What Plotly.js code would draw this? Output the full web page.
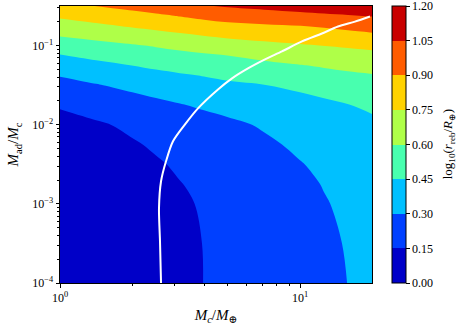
<!DOCTYPE html>
<html>
<head>
<meta charset="utf-8">
<script src="https://cdn.plot.ly/plotly-3.0.1.min.js"></script>
<style>
  body { margin: 0; background: #fff; }
  #chart { width: 457px; height: 325px; }
</style>
</head>
<body>
<div id="chart"></div>
<script>
// core mass M_c / M_earth (grid columns)
const coreMass = [1, 1.413, 2, 2.512, 3.162, 3.981, 5.012, 7.079, 10, 12.59, 15.85, 19.95];
// atmosphere fraction M_ad / M_c (grid rows)
const atmFrac = [1e-4, 3.162e-4, 1e-3, 1.778e-3, 3.162e-3, 5.623e-3, 1e-2, 1.778e-2, 3.162e-2,
                 4.217e-2, 5.623e-2, 7.499e-2, 0.1, 0.1334, 0.1778, 0.2371, 0.3162];

// log10(r_reb / R_earth), one row per atmFrac value
const logRadius = [
  [0.005, 0.038, 0.075, 0.100, 0.125, 0.151, 0.175, 0.213, 0.250, 0.275, 0.301, 0.326],
  [0.008, 0.041, 0.078, 0.103, 0.128, 0.152, 0.179, 0.218, 0.255, 0.279, 0.307, 0.332],
  [0.016, 0.049, 0.086, 0.111, 0.136, 0.159, 0.188, 0.228, 0.268, 0.293, 0.320, 0.345],
  [0.027, 0.060, 0.097, 0.122, 0.147, 0.170, 0.199, 0.240, 0.275, 0.305, 0.333, 0.358],
  [0.044, 0.077, 0.114, 0.139, 0.164, 0.189, 0.215, 0.256, 0.294, 0.325, 0.350, 0.375],
  [0.069, 0.102, 0.139, 0.164, 0.189, 0.214, 0.239, 0.277, 0.323, 0.345, 0.370, 0.395],
  [0.097, 0.135, 0.172, 0.197, 0.222, 0.247, 0.272, 0.314, 0.345, 0.370, 0.395, 0.420],
  [0.165, 0.203, 0.240, 0.265, 0.293, 0.320, 0.346, 0.380, 0.400, 0.420, 0.447, 0.475],
  [0.254, 0.292, 0.333, 0.365, 0.390, 0.410, 0.428, 0.447, 0.478, 0.510, 0.535, 0.553],
  [0.308, 0.353, 0.393, 0.417, 0.437, 0.456, 0.478, 0.507, 0.536, 0.560, 0.578, 0.592],
  [0.375, 0.415, 0.451, 0.475, 0.498, 0.519, 0.539, 0.568, 0.595, 0.614, 0.633, 0.650],
  [0.443, 0.483, 0.519, 0.541, 0.562, 0.582, 0.601, 0.636, 0.665, 0.683, 0.698, 0.712],
  [0.524, 0.559, 0.588, 0.611, 0.638, 0.664, 0.687, 0.715, 0.738, 0.752, 0.767, 0.784],
  [0.607, 0.639, 0.676, 0.702, 0.727, 0.752, 0.774, 0.797, 0.818, 0.832, 0.851, 0.872],
  [0.689, 0.726, 0.766, 0.791, 0.816, 0.842, 0.865, 0.883, 0.899, 0.917, 0.942, 0.963],
  [0.771, 0.813, 0.852, 0.877, 0.905, 0.936, 0.963, 0.985, 1.008, 1.025, 1.041, 1.056],
  [0.849, 0.902, 0.941, 0.974, 1.005, 1.040, 1.064, 1.090, 1.115, 1.131, 1.140, 1.148]
];

// white curve
const curveMass = [2.636, 2.61, 2.585, 2.636, 2.765, 2.957, 3.318, 3.758, 4.553, 5.21,
                   6.07, 7.15, 8.41, 10.19, 12.35, 14.40, 16.95, 19.57];
const curveFrac = [1e-4, 3.39e-4, 8.83e-4, 1.93e-3, 3.45e-3, 6.18e-3, 1.01e-2, 1.61e-2, 2.79e-2, 3.85e-2,
                   5.14e-2, 6.68e-2, 8.43e-2, 0.1127, 0.1422, 0.174, 0.201, 0.233];

const levelTicks = [0, 0.15, 0.30, 0.45, 0.60, 0.75, 0.90, 1.05, 1.1999];
const levelLabels = ['0.00', '0.15', '0.30', '0.45', '0.60', '0.75', '0.90', '1.05', '1.20'];
// jet sampled at band centres
const bandColors = ['#0000c8', '#0040ff', '#00c0ff', '#48ffaf', '#afff48', '#ffd200', '#ff5c00', '#c80000'];
const cbarTitle = 'log<sub>10</sub>(<i>r</i><sub>reb</sub>/<i>R</i><sub>\u2295</sub>)';

const xTickVals = [1, 10];
const xTickText = ['10<sup>0</sup>', '10<sup>1</sup>'];
const xMinorVals = [2, 3, 4, 5, 6, 7, 8, 9, 20];
const yTickVals = [1e-4, 1e-3, 1e-2, 1e-1];
const yTickText = ['10<sup>\u22124</sup>', '10<sup>\u22123</sup>', '10<sup>\u22122</sup>', '10<sup>\u22121</sup>'];
const yMinorVals = [2e-4, 3e-4, 4e-4, 5e-4, 6e-4, 7e-4, 8e-4, 9e-4,
                    2e-3, 3e-3, 4e-3, 5e-3, 6e-3, 7e-3, 8e-3, 9e-3,
                    2e-2, 3e-2, 4e-2, 5e-2, 6e-2, 7e-2, 8e-2, 9e-2, 0.2, 0.3];

// step colorscale so each band gets one flat colour
const nLev = 9;
const colorscale = [];
bandColors.forEach((c, k) => {
  const lo = k === 0 ? 0 : (k + 0.5) / nLev;
  const hi = k === bandColors.length - 1 ? 1 : (k + 1.5) / nLev;
  colorscale.push([lo, c], [hi, c]);
});

const contour = {
  type: 'contour',
  x: coreMass, y: atmFrac, z: logRadius,
  autocontour: false,
  contours: { start: 0, end: 1.2, size: 0.15, coloring: 'fill', showlines: false },
  line: { width: 0, smoothing: 1 },
  colorscale: colorscale,
  zauto: false, zmin: 0, zmax: 1.2,
  hoverinfo: 'skip',
  colorbar: {
    thickness: 14, thicknessmode: 'pixels',
    len: 1, lenmode: 'fraction',
    x: 1.064, xanchor: 'left', xpad: 0,
    y: 0.5, yanchor: 'middle', ypad: 0,
    outlinewidth: 1, outlinecolor: '#000',
    tickmode: 'array', tickvals: levelTicks, ticktext: levelLabels,
    ticks: 'outside', ticklen: 3.5, tickcolor: '#000',
    ticklabeloverflow: 'allow',
    tickfont: { size: 12 }
  }
};

const curve = {
  type: 'scatter', mode: 'lines',
  x: curveMass, y: curveFrac,
  line: { color: '#fff', width: 2, shape: 'spline', smoothing: 0.8 },
  showlegend: false, hoverinfo: 'skip'
};

const axisBase = {
  type: 'log',
  tickmode: 'array',
  ticks: 'outside', ticklen: 3.5, tickwidth: 1, tickcolor: '#000',
  showline: true, linecolor: '#000', linewidth: 1, mirror: true,
  showgrid: false, zeroline: false,
  tickfont: { size: 12 }
};

const layout = {
  width: 457, height: 325,
  margin: { l: 60, r: 85, t: 6, b: 42 },
  paper_bgcolor: '#fff', plot_bgcolor: '#fff',
  font: { family: '"Liberation Serif", "DejaVu Serif", serif', size: 12, color: '#000' },
  showlegend: false,
  xaxis: Object.assign({}, axisBase, {
    range: [0, 1.3],
    tickvals: xTickVals, ticktext: xTickText,
    minor: { tickmode: 'array', tickvals: xMinorVals, ticks: 'outside', ticklen: 2, tickcolor: '#000', showgrid: false },
    title: { text: '<i>M</i><sub><i>c</i></sub>/<i>M</i><sub>\u2295</sub>', font: { size: 15 }, standoff: 6 }
  }),
  yaxis: Object.assign({}, axisBase, {
    range: [-4, -0.5],
    tickvals: yTickVals, ticktext: yTickText,
    minor: { tickmode: 'array', tickvals: yMinorVals, ticks: 'outside', ticklen: 2, tickcolor: '#000', showgrid: false },
    title: { text: '<i>M</i><sub>ad</sub>/<i>M</i><sub>c</sub>', font: { size: 15 }, standoff: 9 }
  }),
  annotations: [{
    text: cbarTitle, xref: 'paper', yref: 'paper',
    x: 1.246, y: 0.5, xanchor: 'center', yanchor: 'middle',
    textangle: -90, showarrow: false, font: { size: 13 }
  }]
};

Plotly.newPlot('chart', [contour, curve], layout, { displayModeBar: false, staticPlot: true });
</script>
</body>
</html>
